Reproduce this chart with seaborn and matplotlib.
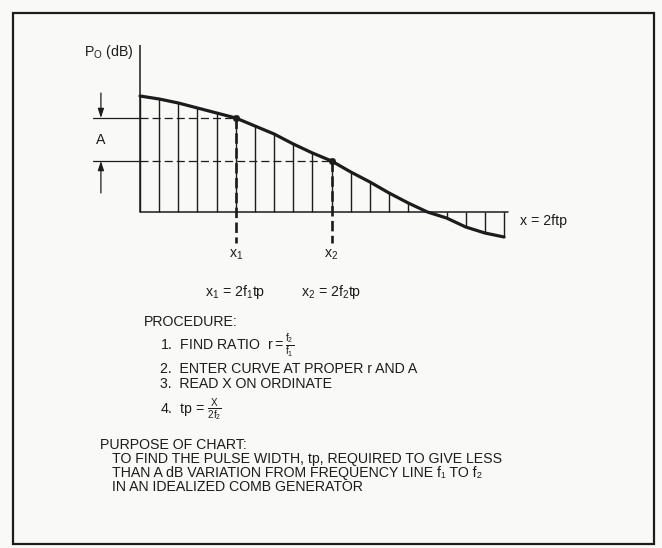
import matplotlib
matplotlib.use("Agg")
import matplotlib.pyplot as plt
from matplotlib.patches import Rectangle
import pandas as pd
import seaborn as sns

# Comb generator spectral lines: line number and relative line level (dB, arbitrary scale)
line_index = list(range(20))
line_level = [116, 113, 109, 104, 99, 94, 86, 78, 68, 59,
              51, 40, 30, 19, 9, 0, -6, -15, -21, -25]
x1_index = 5
x2_index = 10
axis_top = 167
guide_bottom = -31

procedure_lines = [
    "1.  FIND RATIO  $r = \\frac{f_2}{f_1}$",
    "2.  ENTER CURVE AT PROPER r AND A",
    "3.  READ X ON ORDINATE",
    "4.  tp = $\\frac{X}{2f_2}$",
]
purpose_lines = [
    "TO FIND THE PULSE WIDTH, tp, REQUIRED TO GIVE LESS",
    "THAN A dB VARIATION FROM FREQUENCY LINE f\u2081 TO f\u2082",
    "IN AN IDEALIZED COMB GENERATOR",
]

sns.set_style("white")
plt.rcParams["font.family"] = ["Liberation Sans", "DejaVu Sans"]
plt.rcParams["mathtext.fontset"] = "custom"
plt.rcParams["mathtext.rm"] = "Liberation Sans"
plt.rcParams["mathtext.it"] = "Liberation Sans"
plt.rcParams["mathtext.bf"] = "Liberation Sans:bold"
plt.rcParams["lines.scale_dashes"] = False

INK = "#1c1c1c"
PAPER = "#f9f9f7"
FS = 10.2
W, H = 662, 548


def fx(px):
    return px / W


def fy(py):
    return 1 - py / H


fig = plt.figure(figsize=(W / 100, H / 100), dpi=100, facecolor=PAPER)

# frame around the whole panel
fig.patches.append(Rectangle((fx(13), fy(544)), fx(654) - fx(13), fy(13) - fy(544),
                             transform=fig.transFigure, fill=False,
                             edgecolor=INK, linewidth=1.6))

# plotting area: line index on x, level on y
L, R, T, B = 80, 620, 30, 262
x0_px, dx_px, base_px = 140, 19.16, 212
ax = fig.add_axes([fx(L), fy(B), fx(R) - fx(L), fy(T) - fy(B)])
ax.set_facecolor("none")
ax.set_xlim((L - x0_px) / dx_px, (R - x0_px) / dx_px)
ax.set_ylim(base_px - B, base_px - T)
ax.axis("off")

df = pd.DataFrame({"n": line_index, "level": line_level})
last = line_index[-1]

# ordinate and baseline
ax.plot([0, 0], [0, axis_top], color=INK, lw=1.1, solid_capstyle="butt")
ax.plot([0, last + 0.2], [0, 0], color=INK, lw=1.1)

# spectral lines
ax.vlines(df["n"], 0, df["level"], color=INK, lw=1.0)

# envelope
sns.lineplot(data=df, x="n", y="level", color=INK, lw=2.3, ax=ax,
             solid_capstyle="round", solid_joinstyle="round")

# reference levels at x1 and x2
lv1 = line_level[x1_index]
lv2 = line_level[x2_index]
arrow_x = -2.04
ext_left = -2.45
for lv in (lv1, lv2):
    ax.plot([ext_left, 0], [lv, lv], color=INK, lw=0.9)
ax.plot([0, x1_index], [lv1, lv1], color=INK, lw=0.9, dashes=(5.8, 2.9))
ax.plot([0, x2_index], [lv2, lv2], color=INK, lw=0.9, dashes=(5.8, 2.9))
for xi, lv in ((x1_index, lv1), (x2_index, lv2)):
    ax.plot([xi, xi], [lv, guide_bottom], color=INK, lw=1.9, dashes=(7.5, 3.2))
sns.scatterplot(x=[x1_index, x2_index], y=[lv1, lv2], color=INK, s=22,
                edgecolor=INK, ax=ax, zorder=5)

# amplitude difference A
arrow_style = dict(arrowstyle="-|>,head_length=0.55,head_width=0.18",
                   color=INK, lw=0.9, shrinkA=0, shrinkB=0)
ax.annotate("", xy=(arrow_x, lv1), xytext=(arrow_x, lv1 + 25), arrowprops=arrow_style)
ax.annotate("", xy=(arrow_x, lv2), xytext=(arrow_x, lv2 - 32), arrowprops=arrow_style)
ax.text(arrow_x, (lv1 + lv2) / 2, "A", ha="center", va="center",
        fontsize=FS, color=INK)

ax.text(x1_index, -43, "x$_1$", ha="center", va="center", fontsize=FS, color=INK)
ax.text(x2_index, -43, "x$_2$", ha="center", va="center", fontsize=FS, color=INK)
ax.text(last + 0.85, -9, "x = 2ftp", ha="left", va="center", fontsize=FS, color=INK)
ax.text(-0.35, 160, "P$_\\mathrm{O}$ (dB)", ha="right", va="center",
        fontsize=FS, color=INK)

# explanatory text
fig.text(fx(205), fy(292), "x$_1$ = 2f$_1$tp", ha="left", va="center",
         fontsize=FS, color=INK)
fig.text(fx(301), fy(292), "x$_2$ = 2f$_2$tp", ha="left", va="center",
         fontsize=FS, color=INK)

fig.text(fx(144), fy(322), "PROCEDURE:", ha="left", va="center", fontsize=FS, color=INK)
for py, line in zip((345, 369, 384, 410), procedure_lines):
    fig.text(fx(160), fy(py), line, ha="left", va="center", fontsize=FS, color=INK)

fig.text(fx(100), fy(445), "PURPOSE OF CHART:", ha="left", va="center",
         fontsize=FS, color=INK)
for py, line in zip((459, 473, 487), purpose_lines):
    fig.text(fx(112), fy(py), line, ha="left", va="center", fontsize=FS, color=INK)

fig.savefig("out.png", dpi=100, facecolor=PAPER)
